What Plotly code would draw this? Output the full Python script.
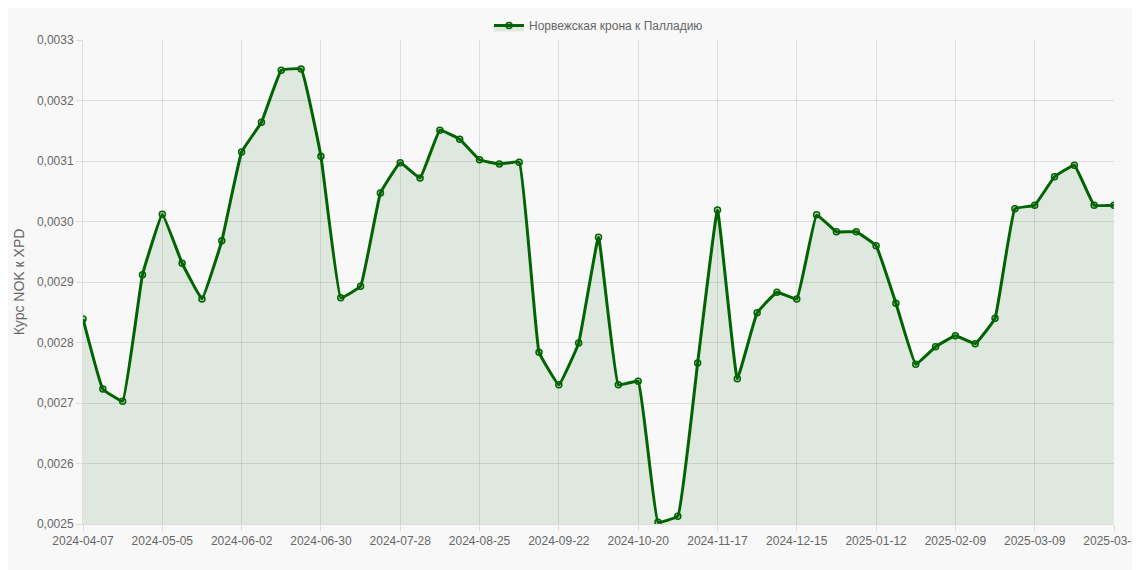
import pandas as pd
import plotly.graph_objects as go

dates = [d.strftime("%Y-%m-%d") for d in pd.date_range("2024-04-07", periods=52, freq="7D")] + ["2025-03-31"]
rates = [0.002839, 0.002723, 0.002703, 0.002912, 0.003012, 0.002931, 0.002872, 0.002968,
         0.003115, 0.003164, 0.003250, 0.003252, 0.003108, 0.002874, 0.002893, 0.003047,
         0.003097, 0.003072, 0.003151, 0.003136, 0.003102, 0.003095, 0.003098, 0.002784,
         0.002730, 0.002799, 0.002974, 0.002730, 0.002736, 0.002503, 0.002513, 0.002766,
         0.003019, 0.002740, 0.002849, 0.002883, 0.002872, 0.003011, 0.002983, 0.002983,
         0.002960, 0.002865, 0.002764, 0.002793, 0.002811, 0.002798, 0.002840, 0.003021,
         0.003027, 0.003074, 0.003093, 0.003027, 0.003027]
tick_labels = dates[::4] + [dates[-1]]

fig = go.Figure(go.Scatter(
    x=dates, y=rates, name="Норвежская крона к Палладию",
    mode="lines+markers", line=dict(color="#006400", width=3, shape="spline", smoothing=0.25),
    marker=dict(size=6, color="rgba(0,100,0,0.15)", line=dict(color="#006400", width=1.5)),
    fill="tozeroy", fillcolor="rgba(0,100,0,0.1)",
))

grid = "rgba(0,0,0,0.1)"
fig.update_layout(
    width=1140, height=570, paper_bgcolor="#f8f8f8", plot_bgcolor="#f8f8f8",
    margin=dict(l=75, r=34, t=32, b=54, autoexpand=False), separators=", ",
    font=dict(family="Liberation Sans, Arial", size=12, color="#666"),
    showlegend=True,
    legend=dict(orientation="h", x=0.5, xanchor="center", y=1.0, yanchor="bottom", font=dict(size=12)),
    xaxis=dict(type="category", tickvals=tick_labels, ticktext=tick_labels, tickangle=0,
               showgrid=True, gridcolor=grid, range=[0, len(dates) - 1], ticks="outside",
               ticklen=6, tickcolor=grid, linecolor=grid, showline=True, automargin=False),
    yaxis=dict(range=[0.0025, 0.0033], dtick=0.0001, tickformat=".4f", showgrid=True,
               gridcolor=grid, title=dict(text="Курс NOK к XPD", font=dict(size=14), standoff=8),
               ticks="outside", ticklen=6, tickcolor=grid, linecolor=grid, showline=True,
               zeroline=False, automargin=False),
)
fig.write_html("out.html")
